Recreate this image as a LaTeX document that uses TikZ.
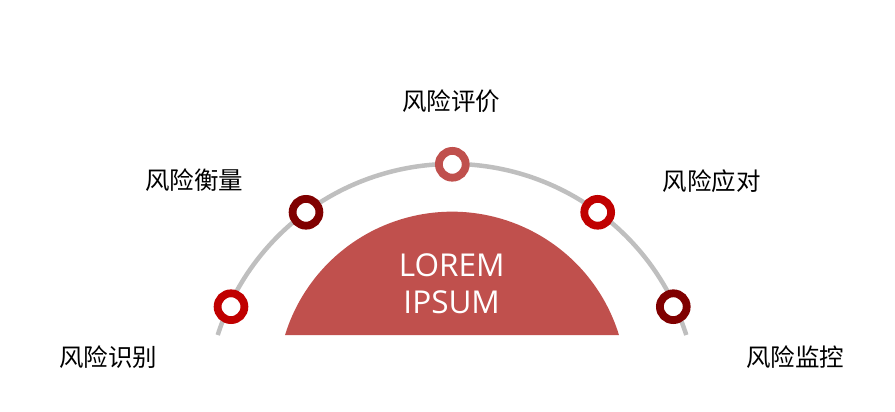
\documentclass[tikz,border=0pt]{standalone}
\usepackage{fontspec}
\setmainfont{Open Sans}
\newfontfamily\cjk{Noto Sans CJK SC}
\definecolor{arcgray}{HTML}{BFBFBF}
\definecolor{softred}{HTML}{C0504D}
\definecolor{darkred}{HTML}{800000}
\definecolor{brightred}{HTML}{C00000}
\tikzset{
  ring/.style={circle, draw=#1, line width=7.8pt, fill=white, minimum size=26.8pt, inner sep=0pt},
  label cn/.style={inner sep=0pt, font=\cjk\fontsize{24.5}{28}\selectfont, text=black},
  center text/.style={inner sep=0pt, anchor=base, text=white, font=\fontsize{31.5}{36}\selectfont}
}
\begin{document}
\begin{tikzpicture}[x=1pt,y=1pt]
\useasboundingbox (0,0) rectangle (895,412);
% gray arc
\draw[arcgray, line width=4.5pt] (452,2) ++(17.75:246) arc[start angle=17.75, end angle=162.25, radius=246];
% red half disk
\fill[softred] (452,25.6) ++(17.1:174.7) arc[start angle=17.1, end angle=162.9, radius=174.7] -- cycle;
\node[center text] (t1) at (451.7,135.3) {LOREM};
\node[center text] (t2) at (451.7,98.7) {IPSUM};
% rings
\node[ring=softred] (c3) at (452.3,247.7) {};
\node[ring=darkred] (c2) at (306,199.7) {};
\node[ring=brightred] (c4) at (597.7,199.7) {};
\node[ring=brightred] (c1) at (231,105.3) {};
\node[ring=darkred] (c5) at (673.3,105.3) {};
% labels
\node[label cn] (l3) at (451.3,310.3) {风险评价};
\node[label cn] (l2) at (194,231.5) {风险衡量};
\node[label cn] (l4) at (711.7,231) {风险应对};
\node[label cn] (l1) at (108.3,54.5) {风险识别};
\node[label cn] (l5) at (795.3,54.5) {风险监控};
\end{tikzpicture}
\end{document}
